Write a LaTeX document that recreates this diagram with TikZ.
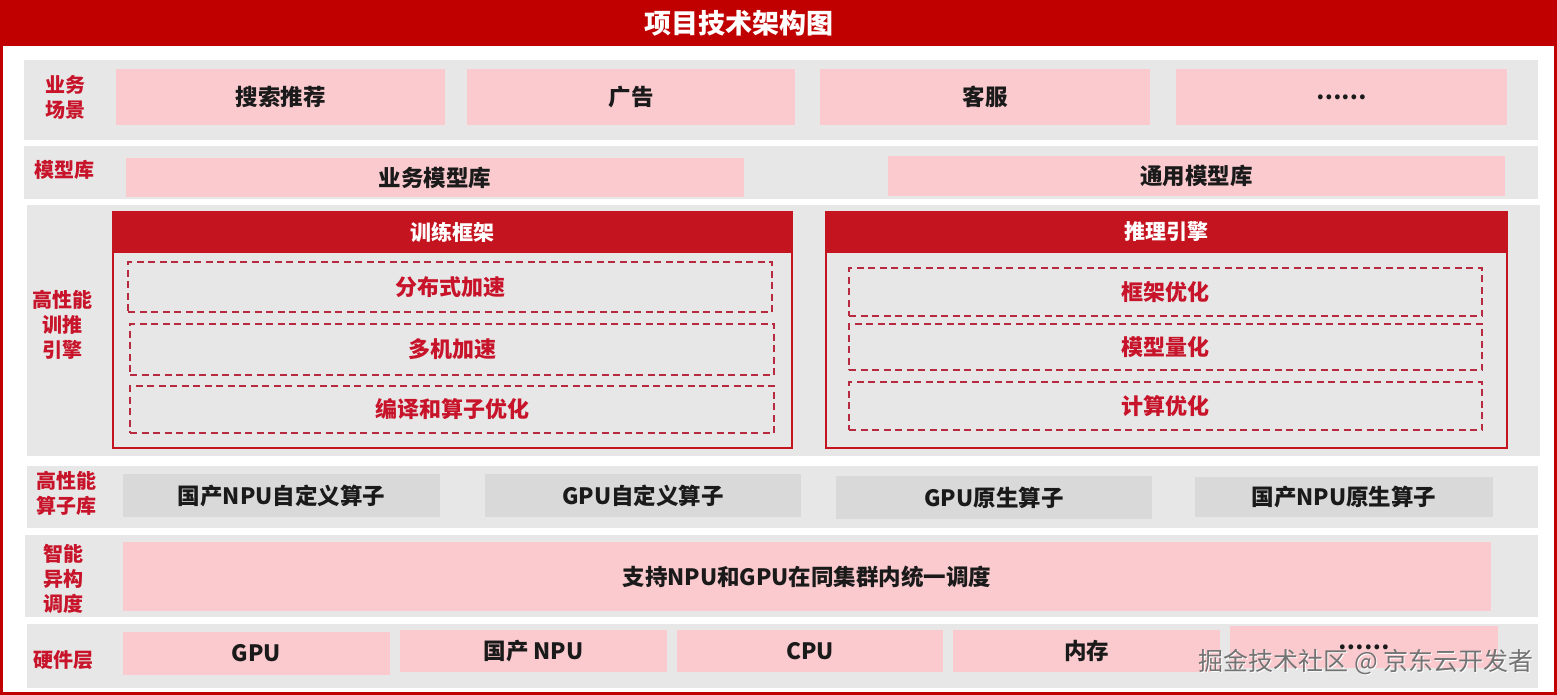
\documentclass[tikz,border=0pt]{standalone}
\usepackage{fontspec}
\setmainfont{Noto Sans CJK SC}
\definecolor{titlered}{HTML}{C00000}
\definecolor{hdrred}{HTML}{C4141F}
\definecolor{lblred}{HTML}{C8142A}
\definecolor{dashred}{HTML}{B82A40}
\definecolor{band}{HTML}{E7E7E7}
\definecolor{pinkf}{HTML}{FACACE}
\definecolor{opgray}{HTML}{D9D9D9}
\definecolor{txt}{HTML}{1A1A1A}
\tikzset{
  bandbox/.style={fill=band, draw=none, inner sep=0pt},
  pinkbox/.style={fill=pinkf, draw=none, inner sep=0pt, text=txt, font=\fontsize{22.5}{25}\selectfont\bfseries},
  opbox/.style={fill=opgray, draw=none, inner sep=0pt, text=txt, font=\fontsize{22.5}{25}\selectfont\bfseries},
  lbl/.style={text=lblred, inner sep=0pt, align=center, font=\fontsize{20}{25}\selectfont\bfseries},
  frame/.style={draw=hdrred, line width=1.5pt, fill=band, inner sep=0pt},
  hdr/.style={fill=hdrred, draw=hdrred, line width=1.5pt, inner sep=0pt, text=white, font=\fontsize{21}{24}\selectfont\bfseries},
  dbox/.style={draw=dashred, line width=1.6pt, dash pattern=on 7pt off 4.5pt, inner sep=0pt, text=lblred, font=\fontsize{22}{24}\selectfont\bfseries},
}
\begin{document}
\begin{tikzpicture}[x=1pt,y=-1pt]
\useasboundingbox (0,0) rectangle (1557,695);
\fill[white] (0,0) rectangle (1557,695);
% title bar and outer frame
\fill[titlered] (0,0) rectangle (1557,46);
\node[inner sep=0pt, text=white, font=\fontsize{27}{30}\selectfont\bfseries] (title) at (739,23) {项目技术架构图};
\draw[titlered, line width=3pt] (1.5,1.5) rectangle (1555.5,693.5);
% bands
\node[bandbox, minimum width=1514, minimum height=80] (b1) at (781,100) {};
\node[bandbox, minimum width=1514, minimum height=53] (b2) at (781,172.5) {};
\node[bandbox, minimum width=1513, minimum height=251] (b3) at (783.5,330.5) {};
\node[bandbox, minimum width=1511, minimum height=62] (b4) at (782.5,497) {};
\node[bandbox, minimum width=1513, minimum height=82] (b5) at (781.5,576) {};
\node[bandbox, minimum width=1511, minimum height=64] (b6) at (782.5,656) {};
% left labels
\node[lbl] (l1) at (65,97.5) {业务\\场景};
\node[lbl] (l2) at (64,170) {模型库};
\node[lbl] (l3) at (62,325) {高性能\\训推\\引擎};
\node[lbl] (l4) at (66,493) {高性能\\算子库};
\node[lbl] (l5) at (63,579) {智能\\异构\\调度};
\node[lbl] (l6) at (63,660) {硬件层};
% business scenes
\node[pinkbox, minimum width=329, minimum height=56] (s1) at (280.5,97) {搜索推荐};
\node[pinkbox, minimum width=328, minimum height=56] (s2) at (631,97) {广告};
\node[pinkbox, minimum width=330, minimum height=56] (s3) at (985,97) {客服};
\node[pinkbox, minimum width=331, minimum height=56] (s4) at (1341.5,97) {……};
% model libraries
\node[pinkbox, minimum width=618, minimum height=39] (m1) at (435,177.5) {业务模型库};
\node[pinkbox, minimum width=617, minimum height=40] (m2) at (1196.5,176) {通用模型库};
% training framework
\node[frame, minimum width=679, minimum height=236] (tf) at (452.5,330) {};
\node[hdr, minimum width=679, minimum height=40] (tfh) at (452.5,232) {训练框架};
\node[dbox, minimum width=644, minimum height=50] (d1) at (450,287) {分布式加速};
\node[dbox, minimum width=644, minimum height=51] (d2) at (452,349.5) {多机加速};
\node[dbox, minimum width=644, minimum height=47] (d3) at (452,409.5) {编译和算子优化};
% inference engine
\node[frame, minimum width=681, minimum height=236] (ie) at (1166.5,330) {};
\node[hdr, minimum width=681, minimum height=40] (ieh) at (1166.5,232) {推理引擎};
\node[dbox, minimum width=633, minimum height=48] (e1) at (1165.5,292) {框架优化};
\node[dbox, minimum width=633, minimum height=46] (e2) at (1165.5,347) {模型量化};
\node[dbox, minimum width=633, minimum height=48] (e3) at (1165.5,406) {计算优化};
% operator library
\node[opbox, minimum width=317, minimum height=43] (o1) at (281.5,495.5) {国产NPU自定义算子};
\node[opbox, minimum width=316, minimum height=43] (o2) at (643,495.5) {GPU自定义算子};
\node[opbox, minimum width=316, minimum height=43] (o3) at (994,497.5) {GPU原生算子};
\node[opbox, minimum width=298, minimum height=40] (o4) at (1344,497) {国产NPU原生算子};
% scheduling
\node[pinkbox, minimum width=1368, minimum height=69] (sc) at (807,576.5) {支持NPU和GPU在同集群内统一调度};
% hardware
\node[pinkbox, minimum width=267, minimum height=43] (h1) at (256.5,653.5) {GPU};
\node[pinkbox, minimum width=267, minimum height=42] (h2) at (533.5,651) {国产 NPU};
\node[pinkbox, minimum width=266, minimum height=42] (h3) at (810,651) {CPU};
\node[pinkbox, minimum width=267, minimum height=42] (h4) at (1086.5,651) {内存};
\node[pinkbox, minimum width=268, minimum height=42] (h5) at (1364,647) {……};
% watermark
\node[anchor=east, inner sep=0pt, text=white, font=\fontsize{25}{27}\selectfont] (wm0) at (1535,663) {掘金技术社区 @ 京东云开发者};
\node[anchor=east, inner sep=0pt, text=black!55, font=\fontsize{25}{27}\selectfont] (wm) at (1534,662) {掘金技术社区 @ 京东云开发者};
\end{tikzpicture}
\end{document}
